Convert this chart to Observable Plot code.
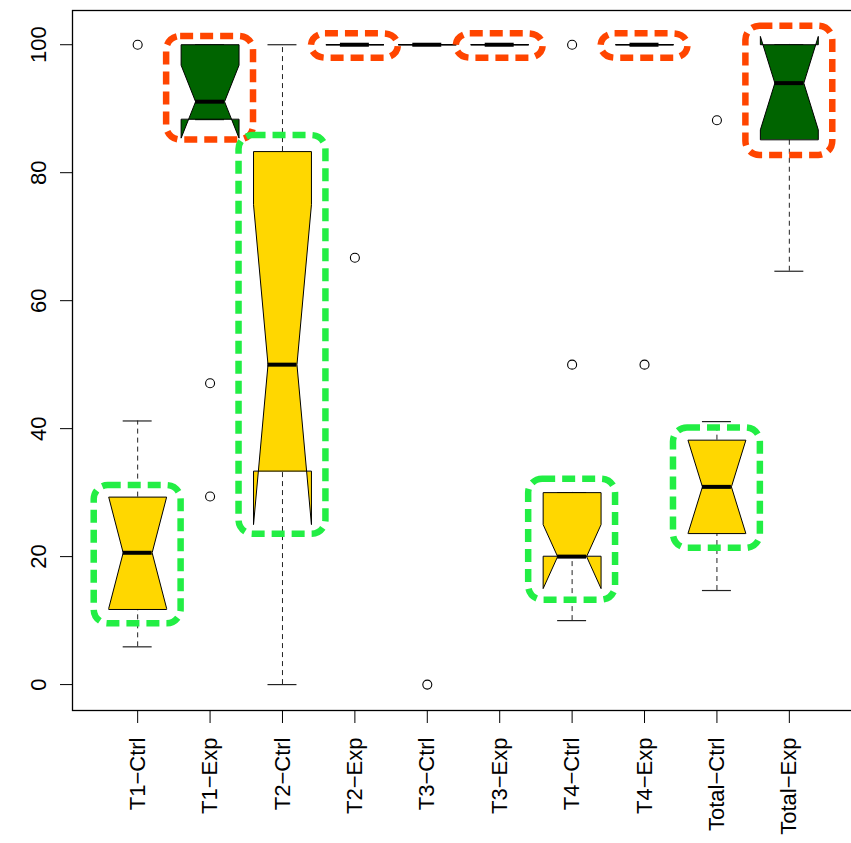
<!DOCTYPE html>
<html>
<head>
<meta charset="utf-8">
<script src="https://cdn.jsdelivr.net/npm/d3@7"></script>
<script src="https://cdn.jsdelivr.net/npm/@observablehq/plot@0.6"></script>
<style>
  html, body { margin: 0; padding: 0; background: #fff; overflow: hidden; }
</style>
</head>
<body>
<div id="chart"></div>
<script>
// ---- data ----
const categories = ["T1−Ctrl", "T1−Exp", "T2−Ctrl", "T2−Exp", "T3−Ctrl", "T3−Exp", "T4−Ctrl", "T4−Exp", "Total−Ctrl", "Total−Exp"];
const groups     = ["Ctrl", "Exp", "Ctrl", "Exp", "Ctrl", "Exp", "Ctrl", "Exp", "Ctrl", "Exp"];
const whiskerLo  = [5.9, 88.3, 0, 100, 100, 100, 10, 100, 14.7, 64.6];
const q1         = [11.8, 88.3, 33.3, 100, 100, 100, 20, 100, 23.6, 85.2];
const median     = [20.6, 91.1, 50, 100, 100, 100, 20, 100, 30.9, 94.0];
const q3         = [29.3, 100, 83.3, 100, 100, 100, 30, 100, 38.2, 100];
const whiskerHi  = [41.2, 100, 100, 100, 100, 100, 30, 100, 41.1, 100];
const notchLo    = [11.9, 85.4, 25, 100, 100, 100, 15, 100, 23.6, 86.7];
const notchHi    = [29.3, 96.8, 75, 100, 100, 100, 25, 100, 38.2, 101.3];

const outlierCat = [1, 2, 2, 4, 5, 7, 7, 8, 9];
const outlierVal = [100, 47.1, 29.4, 66.7, 0, 100, 50, 50, 88.2];

// highlighted boxes (annotation ranges, in data units)
const hlCat   = [1, 2, 3, 4, 6, 7, 8, 9, 10];
const hlLo    = [9.5, 85.1, 23.5, 97.9, 97.9, 13.2, 97.9, 21.3, 82.7];
const hlHi    = [31.1, 101.3, 85.8, 101.7, 101.7, 32.1, 101.7, 40.1, 102.9];
const hlGroup = ["Ctrl", "Exp", "Ctrl", "Exp", "Exp", "Ctrl", "Exp", "Ctrl", "Exp"];

const yTicks = [0, 20, 40, 60, 80, 100];

// ---- styling ----
const boxFill = {Ctrl: "#FFD700", Exp: "#006400"};
const hlColor = {Ctrl: "#22EE44", Exp: "#FF4500"};
const W = 0.4, NW = 0.2, SW = 0.2, HW = 0.6;

const boxes = categories.map((c, i) => ({
  pos: i + 1, wLo: whiskerLo[i], q1: q1[i], med: median[i], q3: q3[i], wHi: whiskerHi[i],
  nLo: notchLo[i], nHi: notchHi[i], fill: boxFill[groups[i]]
}));

const poly = boxes.flatMap(b => [
  [-W, b.q1], [-W, b.nLo], [-NW, b.med], [-W, b.nHi], [-W, b.q3],
  [W, b.q3], [W, b.nHi], [NW, b.med], [W, b.nLo], [W, b.q1]
].map(([dx, y]) => ({id: b.pos, x: b.pos + dx, y, fill: b.fill})));

const outliers = outlierCat.map((c, i) => ({cat: c, val: outlierVal[i]}));
const highlights = hlCat.map((c, i) => ({cat: c, lo: hlLo[i], hi: hlHi[i], color: hlColor[hlGroup[i]]}));

const chart = Plot.plot({
  width: 851,
  height: 843,
  marginLeft: 72,
  marginTop: 10,
  marginBottom: 133,
  marginRight: -3,
  style: {fontFamily: "'Liberation Sans', Arial, Helvetica, sans-serif", fontSize: "22px", color: "black", background: "white"},
  x: {type: "linear", domain: [0.1, 10.9]},
  y: {domain: [-4.05, 105.35]},
  color: {type: "identity"},
  marks: [
    Plot.frame({stroke: "black", strokeWidth: 1.3}),
    // whiskers
    Plot.ruleX(boxes, {x: "pos", y1: "q3", y2: "wHi", stroke: "#222", strokeWidth: 1, strokeDasharray: "5,4"}),
    Plot.ruleX(boxes, {x: "pos", y1: "wLo", y2: "q1", stroke: "#222", strokeWidth: 1, strokeDasharray: "5,4"}),
    // staples
    Plot.ruleY(boxes, {y: "wHi", x1: d => d.pos - SW, x2: d => d.pos + SW, stroke: "#222", strokeWidth: 1.2}),
    Plot.ruleY(boxes, {y: "wLo", x1: d => d.pos - SW, x2: d => d.pos + SW, stroke: "#222", strokeWidth: 1.2}),
    // notched boxes
    Plot.line(poly, {x: "x", y: "y", z: "id", fill: "fill", stroke: "black", strokeWidth: 1, curve: "linear-closed"}),
    // medians
    Plot.ruleY(boxes, {y: "med", x1: d => d.pos - NW, x2: d => d.pos + NW, stroke: "black", strokeWidth: 4}),
    // outliers
    Plot.dot(outliers, {x: "cat", y: "val", r: 4.5, stroke: "black", fill: "none", strokeWidth: 1.1}),
    // highlight rectangles
    Plot.rect(highlights, {x1: d => d.cat - HW, x2: d => d.cat + HW, y1: "lo", y2: "hi",
      stroke: "color", fill: "none", strokeWidth: 6.5, strokeDasharray: "13,7", rx: 14}),
    // axes
    Plot.axisY({ticks: yTicks, tickSize: 12, tickPadding: 15, tickRotate: -90, label: null}),
    Plot.axisX({ticks: d3.range(1, categories.length + 1), tickFormat: d => categories[d - 1],
      tickSize: 13, tickPadding: 14, tickRotate: -90, label: null})
  ]
});

document.getElementById("chart").appendChild(chart);
</script>
</body>
</html>
